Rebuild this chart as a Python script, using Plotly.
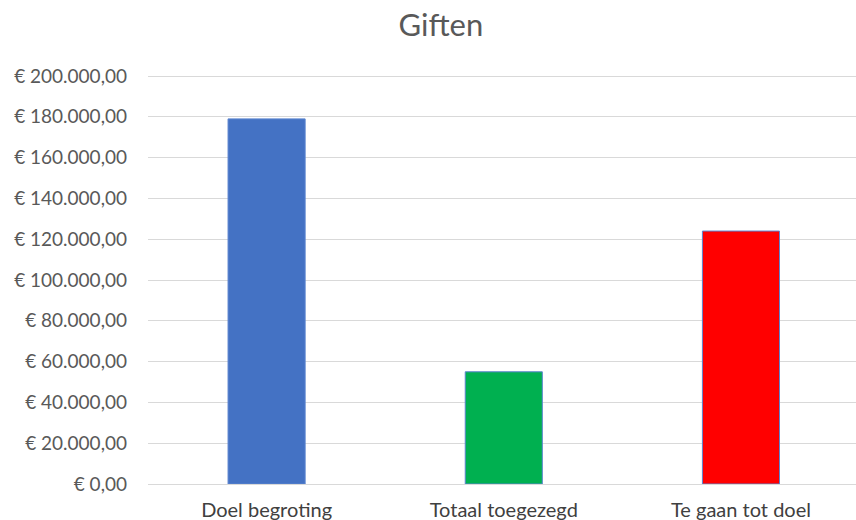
import plotly.graph_objects as go

categories = ["Doel begroting", "Totaal toegezegd", "Te gaan tot doel"]
values = [179000, 55000, 124000]
colors = ["#4472C4", "#00B050", "#FF0000"]
tick_values = [0, 20000, 40000, 60000, 80000, 100000, 120000, 140000, 160000, 180000, 200000]
tick_labels = ["€ 0,00", "€ 20.000,00", "€ 40.000,00", "€ 60.000,00", "€ 80.000,00",
               "€ 100.000,00", "€ 120.000,00", "€ 140.000,00", "€ 160.000,00",
               "€ 180.000,00", "€ 200.000,00"]

fig = go.Figure(go.Bar(
    x=categories, y=values,
    marker=dict(color=colors, line=dict(color="#5B84CF", width=1)),
    width=0.325,
))

fig.update_layout(
    width=856, height=520,
    margin=dict(l=148, r=0, t=74, b=36),
    paper_bgcolor="white", plot_bgcolor="white",
    title=dict(text="Giften", x=0.515, xanchor="center", y=0.952, yanchor="middle",
               font=dict(family="Lato, Open Sans, sans-serif", size=31, color="#595959")),
    font=dict(family="Lato, Open Sans, sans-serif", size=19, color="#595959"),
    showlegend=False,
)
fig.update_yaxes(range=[0, 201000], tickvals=tick_values, ticktext=tick_labels,
                 showgrid=True, gridcolor="#D9D9D9", gridwidth=1, zeroline=False,
                 ticks="", ticklabelstandoff=20, showline=False, automargin=False)
fig.update_xaxes(range=[-0.5, 2.485], showline=True, linecolor="#D9D9D9", linewidth=1, ticks="",
                 tickfont=dict(size=20, color="#404040"), ticklabelstandoff=8,
                 automargin=False)

fig.write_html("out.html", config={"displayModeBar": False},
               post_script="document.body.style.margin='0';document.body.style.overflow='hidden';")
